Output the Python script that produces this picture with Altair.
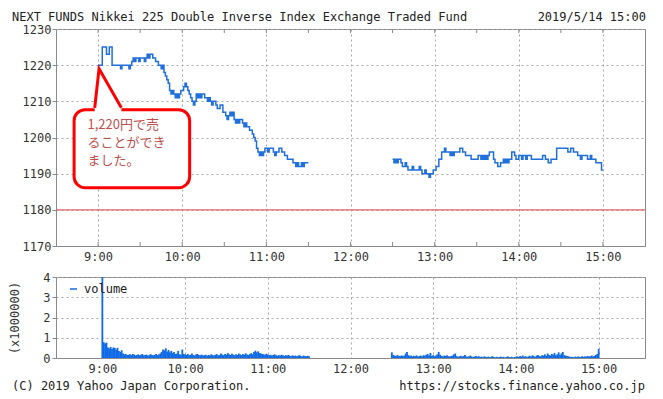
import altair as alt
import pandas as pd

DAY = "2019-05-14"
TITLE = "NEXT FUNDS Nikkei 225 Double Inverse Index Exchange Traded Fund"
STAMP = "2019/5/14 15:00"
COPYRIGHT = "(C) 2019 Yahoo Japan Corporation."
URL = "https://stocks.finance.yahoo.co.jp"
NOTE = ["1,220円で売", "ることができ", "ました。"]
LEGEND = "volume"
VOL_TITLE = "(x1000000)"

hour_labels = [9, 10, 11, 12, 13, 14, 15]
half_ticks = ["09:00", "09:30", "10:00", "10:30", "11:00", "11:30", "12:00", "12:30",
              "13:00", "13:30", "14:00", "14:30", "15:00"]
price_levels = [1170, 1180, 1190, 1200, 1210, 1220, 1230]
vol_levels = [0, 1, 2, 3, 4]
line_level = [1180]

# price change points (time, yen) - morning session
am_points = [
    ("09:00", 1220), ("09:03", 1225), ("09:06", 1223), ("09:08", 1225), ("09:10", 1220),
    ("09:16", 1219), ("09:17", 1220), ("09:22", 1219), ("09:23", 1220), ("09:24", 1221),
    ("09:25", 1222), ("09:26", 1221), ("09:27", 1222), ("09:29", 1221), ("09:30", 1222),
    ("09:33", 1221), ("09:34", 1222), ("09:35", 1223), ("09:36", 1222), ("09:37", 1223),
    ("09:39", 1222), ("09:41", 1221), ("09:43", 1220), ("09:45", 1219), ("09:46", 1220),
    ("09:47", 1218), ("09:48", 1217), ("09:49", 1216), ("09:50", 1215), ("09:51", 1213),
    ("09:52", 1212), ("09:53", 1213), ("09:54", 1212), ("09:55", 1211), ("09:56", 1212),
    ("09:57", 1211), ("09:58", 1212), ("09:59", 1213), ("10:01", 1214), ("10:02", 1215),
    ("10:03", 1214), ("10:04", 1213), ("10:05", 1212), ("10:06", 1211), ("10:07", 1210),
    ("10:08", 1209), ("10:09", 1210), ("10:10", 1212), ("10:11", 1211), ("10:12", 1212),
    ("10:13", 1211), ("10:14", 1212), ("10:16", 1211), ("10:18", 1210), ("10:19", 1211),
    ("10:20", 1210), ("10:21", 1209), ("10:22", 1210), ("10:24", 1209), ("10:25", 1208),
    ("10:27", 1209), ("10:29", 1207), ("10:31", 1206), ("10:32", 1205), ("10:33", 1206),
    ("10:34", 1207), ("10:35", 1206), ("10:36", 1207), ("10:37", 1205), ("10:38", 1204),
    ("10:39", 1205), ("10:40", 1204), ("10:41", 1205), ("10:43", 1204), ("10:44", 1203),
    ("10:45", 1204), ("10:46", 1203), ("10:48", 1202), ("10:50", 1201), ("10:51", 1200),
    ("10:52", 1199), ("10:53", 1197), ("10:54", 1196), ("10:55", 1195), ("10:56", 1196),
    ("10:57", 1195), ("10:58", 1196), ("10:59", 1197), ("11:01", 1196), ("11:02", 1197),
    ("11:05", 1196), ("11:06", 1195), ("11:07", 1196), ("11:09", 1197), ("11:11", 1196),
    ("11:13", 1195), ("11:15", 1194), ("11:19", 1193), ("11:21", 1192), ("11:22", 1193),
    ("11:23", 1192), ("11:25", 1193), ("11:26", 1192), ("11:27", 1193), ("11:30", 1193),
]

# price change points - afternoon session
pm_points = [
    ("12:30", 1194), ("12:31", 1193), ("12:32", 1194), ("12:33", 1193), ("12:34", 1194),
    ("12:36", 1193), ("12:37", 1192), ("12:39", 1193), ("12:40", 1192), ("12:41", 1191),
    ("12:44", 1192), ("12:45", 1191), ("12:49", 1192), ("12:50", 1191), ("12:51", 1190),
    ("12:53", 1191), ("12:54", 1190), ("12:56", 1189), ("12:57", 1190), ("12:59", 1191),
    ("13:01", 1192), ("13:03", 1194), ("13:05", 1196), ("13:07", 1197), ("13:08", 1196),
    ("13:11", 1195), ("13:12", 1196), ("13:13", 1195), ("13:14", 1196), ("13:18", 1197),
    ("13:20", 1196), ("13:22", 1195), ("13:26", 1194), ("13:31", 1195), ("13:33", 1194),
    ("13:34", 1195), ("13:35", 1194), ("13:36", 1195), ("13:37", 1194), ("13:38", 1195),
    ("13:39", 1196), ("13:42", 1194), ("13:43", 1193), ("13:45", 1192), ("13:47", 1193),
    ("13:49", 1194), ("13:50", 1193), ("13:51", 1194), ("13:52", 1193), ("13:53", 1194),
    ("13:55", 1196), ("13:57", 1195), ("13:58", 1194), ("14:00", 1195), ("14:02", 1194),
    ("14:03", 1195), ("14:05", 1194), ("14:06", 1195), ("14:09", 1194), ("14:17", 1195),
    ("14:19", 1194), ("14:21", 1193), ("14:23", 1194), ("14:27", 1197), ("14:35", 1196),
    ("14:37", 1197), ("14:39", 1196), ("14:42", 1195), ("14:44", 1194), ("14:45", 1195),
    ("14:49", 1194), ("14:51", 1195), ("14:52", 1194), ("14:55", 1193), ("14:59", 1191),
    ("15:00", 1191),
]

# volume per minute (x1,000,000), 09:00 .. 11:30
vol_am = [
    4.00, 0.78, 0.72, 0.76, 0.52, 0.48, 0.55, 0.45, 0.52, 0.50,
    0.42, 0.50, 0.35, 0.30, 0.38, 0.22, 0.18, 0.20, 0.15, 0.16,
    0.19, 0.14, 0.20, 0.17, 0.13, 0.15, 0.18, 0.14, 0.16, 0.20,
    0.13, 0.15, 0.17, 0.12, 0.14, 0.19, 0.15, 0.13, 0.16, 0.20,
    0.14, 0.18, 0.22, 0.30, 0.42, 0.38, 0.48, 0.32, 0.40, 0.28,
    0.35, 0.25, 0.30, 0.20, 0.22, 0.35, 0.18, 0.16, 0.42, 0.20,
    0.18, 0.15, 0.20, 0.14, 0.16, 0.22, 0.15, 0.12, 0.18, 0.20,
    0.15, 0.13, 0.17, 0.12, 0.14, 0.16, 0.11, 0.15, 0.13, 0.18,
    0.14, 0.12, 0.16, 0.19, 0.13, 0.15, 0.22, 0.17, 0.14, 0.20,
    0.16, 0.24, 0.18, 0.15, 0.21, 0.17, 0.13, 0.19, 0.15, 0.22,
    0.18, 0.14, 0.20, 0.16, 0.23, 0.17, 0.15, 0.19, 0.24, 0.18,
    0.30, 0.36, 0.28, 0.33, 0.25, 0.22, 0.20, 0.18, 0.16, 0.21,
    0.17, 0.14, 0.16, 0.12, 0.15, 0.18, 0.13, 0.11, 0.14, 0.12,
    0.16, 0.13, 0.10, 0.14, 0.12, 0.15, 0.11, 0.09, 0.13, 0.10,
    0.12, 0.09, 0.11, 0.14, 0.10, 0.08, 0.12, 0.10, 0.09, 0.11,
    0.08,
]

# volume per minute (x1,000,000), 12:30 .. 15:00
vol_pm = [
    0.28, 0.15, 0.12, 0.10, 0.14, 0.11, 0.09, 0.13, 0.10, 0.12,
    0.22, 0.30, 0.14, 0.10, 0.12, 0.08, 0.11, 0.09, 0.13, 0.07,
    0.10, 0.12, 0.08, 0.14, 0.11, 0.16, 0.20, 0.12, 0.25, 0.10,
    0.14, 0.09, 0.12, 0.18, 0.30, 0.16, 0.11, 0.08, 0.12, 0.10,
    0.13, 0.09, 0.07, 0.10, 0.12, 0.18, 0.22, 0.09, 0.06, 0.08,
    0.11, 0.07, 0.10, 0.15, 0.08, 0.06, 0.09, 0.12, 0.07, 0.05,
    0.08, 0.10, 0.06, 0.09, 0.05, 0.07, 0.04, 0.08, 0.06, 0.05,
    0.07, 0.04, 0.06, 0.09, 0.05, 0.03, 0.06, 0.04, 0.05, 0.07,
    0.04, 0.06, 0.03, 0.05, 0.08, 0.05, 0.04, 0.06, 0.03, 0.05,
    0.06, 0.08, 0.05, 0.10, 0.07, 0.12, 0.06, 0.09, 0.05, 0.08,
    0.11, 0.07, 0.13, 0.09, 0.06, 0.12, 0.15, 0.10, 0.08, 0.14,
    0.12, 0.18, 0.10, 0.22, 0.15, 0.12, 0.20, 0.16, 0.25, 0.13,
    0.18, 0.28, 0.15, 0.22, 0.30, 0.14, 0.12, 0.10, 0.08, 0.07,
    0.05, 0.06, 0.04, 0.07, 0.05, 0.08, 0.06, 0.05, 0.09, 0.06,
    0.08, 0.06, 0.10, 0.07, 0.09, 0.12, 0.08, 0.11, 0.15, 0.20,
    0.45,
]

# callout geometry in chart units (time, yen)
box_time = ["08:42:54", "10:05:18"]
box_price = [1207.7, 1186.1]
pointer_time = ["08:57:36", "09:00:42", "09:16:36"]
pointer_price = [1208.2, 1219.0, 1208.2]
note_pos = ("08:52:24", 1205.0)

MONO = "DejaVu Sans Mono"
BLUE = "#1f6fdc"
BAR_BLUE = "#0f6ae6"
GRID = "#a8a8a8"
EDGE = "#8a8a8a"


def ts(hm):
    if hm.count(":") == 1:
        hm = hm + ":00"
    return f"{DAY}T{hm}"


def dt(h, m=0):
    return alt.DateTime(year=2019, month=5, date=14, hours=h, minutes=m)


xscale = alt.Scale(domain=[dt(8, 30), dt(15, 30)])
yscale = alt.Scale(domain=[1170, 1230])
hour_values = [dt(h) for h in hour_labels]

price_df = pd.DataFrame(
    [{"t": ts(a), "price": b, "session": "am"} for a, b in am_points]
    + [{"t": ts(a), "price": b, "session": "pm"} for a, b in pm_points]
)

am_min = pd.date_range(f"{DAY} 09:00", periods=len(vol_am), freq="min")
pm_min = pd.date_range(f"{DAY} 12:30", periods=len(vol_pm), freq="min")
vol_df = pd.DataFrame({
    "t": list(am_min.strftime("%Y-%m-%dT%H:%M:%S")) + list(pm_min.strftime("%Y-%m-%dT%H:%M:%S")),
    "vol": vol_am + vol_pm,
})

x_axis = alt.Axis(values=hour_values, format="%-H:%M", title=None, grid=True,
                  ticks=False, labelPadding=5, gridDash=[2, 3], gridColor=GRID,
                  labelOverlap=False, labelFlush=False)
y_axis = alt.Axis(values=price_levels, format="d", title=None, grid=True,
                  tickSize=4, labelPadding=1, gridDash=[2, 3], gridColor=GRID,
                  labelOverlap=False, labelFlush=False, tickCount=7)


def X(field):
    return alt.X(field, scale=xscale, axis=x_axis)


def Y(field):
    return alt.Y(field, scale=yscale, axis=y_axis)


W, H1, H2 = 589, 217, 81

# ---------- price panel ----------
price_line = alt.Chart(price_df).mark_line(
    interpolate="step-after", color=BLUE, strokeWidth=1.5
).encode(x=X("t:T"), y=Y("price:Q"), detail="session:N")

level_rule = alt.Chart(pd.DataFrame({"price": line_level})).mark_rule(
    color="#e06464", strokeWidth=1.2
).encode(y=Y("price:Q"))

tick_df = pd.DataFrame({"t": [ts(h) for h in half_ticks]})
ticks_bottom = alt.Chart(tick_df).mark_rule(color=EDGE).encode(
    x=X("t:T"), y=alt.value(H1 - 4), y2=alt.value(H1))
ticks_top = alt.Chart(tick_df).mark_rule(color=EDGE).encode(
    x=X("t:T"), y=alt.value(0), y2=alt.value(4))

box = alt.Chart(pd.DataFrame({
    "t": [ts(box_time[0])], "t2": [ts(box_time[1])],
    "price": [box_price[0]], "p2": [box_price[1]],
})).mark_rect(cornerRadius=11, fill="white", stroke="#ff0000", strokeWidth=3).encode(
    x=X("t:T"), x2="t2:T", y=Y("price:Q"), y2="p2:Q")

ptr_df = pd.DataFrame({
    "t": [ts(v) for v in pointer_time],
    "price": pointer_price,
    "p0": [box_price[0] - 0.7] * 3,
})
ptr_fill = alt.Chart(ptr_df).mark_area(color="white", opacity=1).encode(
    x=X("t:T"), y=Y("price:Q"), y2="p0:Q")
ptr_edge = alt.Chart(ptr_df).mark_line(color="#ff0000", strokeWidth=3,
                                       strokeJoin="miter").encode(x=X("t:T"), y=Y("price:Q"))

note = alt.Chart(pd.DataFrame({"t": [ts(note_pos[0])], "price": [note_pos[1]]})).mark_text(
    text=NOTE, lineHeight=18, align="left", baseline="top",
    font="Noto Sans CJK JP", fontSize=13, color="#c0504d"
).encode(x=X("t:T"), y=Y("price:Q"))

one = pd.DataFrame({"k": [0]})
title_left = alt.Chart(one).mark_text(
    text=TITLE, align="left", baseline="middle", font=MONO, fontSize=12, color="#222"
).encode(x=alt.value(-44), y=alt.value(-12))
title_right = alt.Chart(one).mark_text(
    text=STAMP, align="right", baseline="middle", font=MONO, fontSize=12, color="#222"
).encode(x=alt.value(W + 1), y=alt.value(-12))

top = alt.layer(
    price_line, level_rule, ticks_bottom, ticks_top,
    box, ptr_fill, ptr_edge, note, title_left, title_right
).properties(width=W, height=H1)

# ---------- volume panel ----------
bars = alt.Chart(vol_df).mark_bar(size=1.8, color=BAR_BLUE).encode(
    x=X("t:T"),
    y=alt.Y("vol:Q", scale=alt.Scale(domain=[0, 4]),
            axis=alt.Axis(values=vol_levels, title=VOL_TITLE, grid=True, tickSize=4,
                          labelPadding=2, titlePadding=21, gridDash=[2, 3],
                          gridColor=GRID, labelOverlap=False, labelFlush=False)),
)

legend_mark = alt.Chart(one).mark_rule(color=BAR_BLUE, strokeWidth=1.5).encode(
    x=alt.value(14), x2=alt.value(21), y=alt.value(12))
legend_text = alt.Chart(one).mark_text(
    text=LEGEND, align="left", baseline="middle", font=MONO, fontSize=12, color="#222"
).encode(x=alt.value(28), y=alt.value(12))

foot_left = alt.Chart(one).mark_text(
    text=COPYRIGHT, align="left", baseline="middle", font=MONO, fontSize=12, color="#222"
).encode(x=alt.value(-44), y=alt.value(109))
foot_right = alt.Chart(one).mark_text(
    text=URL, align="right", baseline="middle", font=MONO, fontSize=12, color="#222"
).encode(x=alt.value(W), y=alt.value(109))

vol = alt.layer(bars, legend_mark, legend_text, foot_left, foot_right).properties(
    width=W, height=H2)

chart = alt.vconcat(top, vol, spacing=31, bounds="flush").properties(
    padding={"left": 0, "top": 2, "right": 0, "bottom": 0}
).configure_view(
    stroke=EDGE, strokeWidth=1
).configure_axis(
    labelFont=MONO, labelFontSize=12, labelColor="#333",
    titleFont=MONO, titleFontSize=12, titleFontWeight="normal", titleColor="#333",
    domainColor=EDGE, tickColor=EDGE,
)

chart.save("out.html", embed_options={"renderer": "svg", "actions": False})
